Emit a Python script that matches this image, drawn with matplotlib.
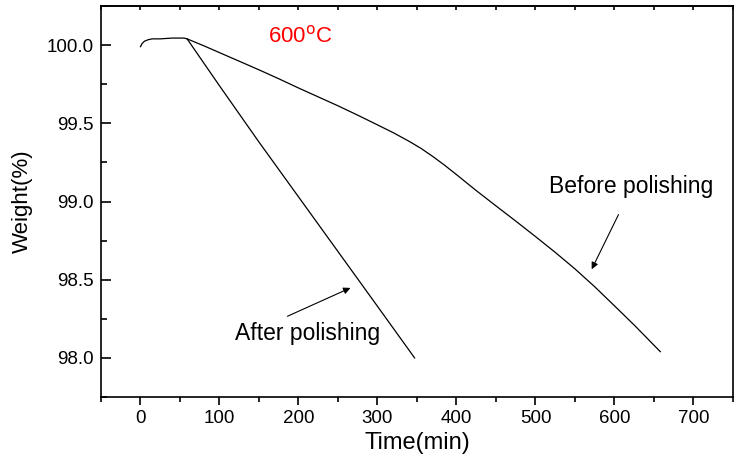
import matplotlib
matplotlib.use("Agg")
import matplotlib.pyplot as plt
from matplotlib.ticker import MultipleLocator

plt.rcParams['font.family'] = ['Liberation Sans', 'DejaVu Sans']

# weight loss curves at 600 C
t_before = [0, 2, 5, 10, 15, 25, 40, 55, 59, 80, 100, 125, 150, 175, 200, 225, 250,
            275, 300, 320, 340, 355, 370, 385, 400, 425, 450, 475, 500, 525, 550,
            575, 600, 625, 658]
w_before = [99.99, 100.01, 100.025, 100.035, 100.04, 100.04, 100.045, 100.045, 100.04,
            99.996, 99.952, 99.897, 99.842, 99.785, 99.726, 99.669, 99.612,
            99.552, 99.49, 99.44, 99.385, 99.34, 99.288, 99.232, 99.172, 99.07, 98.972,
            98.875, 98.776, 98.675, 98.569, 98.455, 98.333, 98.21, 98.04]

t_after = [59, 100, 150, 200, 250, 300, 347]
w_after = [100.04, 99.74, 99.38, 99.03, 98.68, 98.33, 98.0]

fig = plt.figure(figsize=(7.34, 4.63), dpi=100)
ax = fig.add_axes([0.1376, 0.1425, 0.861, 0.8445])

ax.plot(t_before, w_before, color='black', lw=0.9)
ax.plot(t_after, w_after, color='black', lw=0.9)

ax.set_xlim(-50, 750)
ax.set_ylim(97.75, 100.25)

ax.xaxis.set_major_locator(MultipleLocator(100))
ax.xaxis.set_minor_locator(MultipleLocator(50))
ax.yaxis.set_major_locator(MultipleLocator(0.5))
ax.yaxis.set_minor_locator(MultipleLocator(0.25))
ax.yaxis.set_major_formatter(plt.FormatStrFormatter('%.1f'))

ax.tick_params(axis='x', which='major', direction='out', length=6, width=1.2, labelsize=13.5, pad=3)
ax.tick_params(axis='x', which='minor', direction='out', length=3.5, width=1.2)
ax.tick_params(axis='y', which='major', direction='in', length=7, width=1.2, labelsize=13.5, pad=5)
ax.tick_params(axis='y', which='minor', direction='in', length=4, width=1.2)

top = ax.secondary_xaxis('top')
top.xaxis.set_major_locator(MultipleLocator(50))
top.tick_params(direction='in', length=3, width=1.2, labeltop=False)
top.spines['top'].set_linewidth(1.2)

for s in ax.spines.values():
    s.set_linewidth(1.2)

ax.set_xlabel('Time(min)', fontsize=17, labelpad=4)
ax.set_ylabel('Weight(%)', fontsize=16, labelpad=10)

ax.text(161, 100.056, '600$^{\\mathrm{o}}$C', color='red', fontsize=16, va='center', ha='left')

ax.annotate('', xy=(569.6, 98.551), xytext=(606.6, 98.932),
            arrowprops=dict(arrowstyle='-|>', color='black', lw=0.8, mutation_scale=10))
ax.text(((633 - 140) / 0.793), 100 - (187 - 45.7) / 156, 'Before polishing',
        fontsize=16.5, ha='center', va='center')

ax.annotate('', xy=(268.9, 98.455), xytext=(182.8, 98.259),
            arrowprops=dict(arrowstyle='-|>', color='black', lw=0.8, mutation_scale=10))
ax.text(((307.5 - 140) / 0.793), 100 - (333.5 - 45.7) / 156, 'After polishing',
        fontsize=16.5, ha='center', va='center')

fig.savefig('out.png', dpi=100)
